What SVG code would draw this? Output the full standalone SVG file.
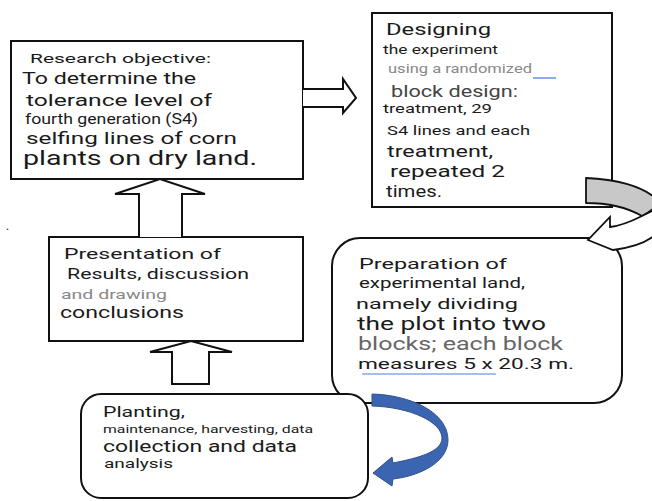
<svg xmlns="http://www.w3.org/2000/svg" width="652" height="501" viewBox="0 0 652 501">
<style>
.box{fill:#fff;stroke:#111;stroke-width:2}
.arr{fill:#fff;stroke:#111;stroke-width:2;stroke-linejoin:miter}
text{font-family:Roboto,"Liberation Sans",sans-serif;fill:#1a1a1a}
.g1{fill:#888}
.g2{fill:#444}
.g3{fill:#666}
</style>
<rect width="652" height="501" fill="#fff"/>
<g id="objective">
<rect class="box" x="11" y="41" width="292" height="138"/>
<text x="30" y="63" font-size="13.5" textLength="181" lengthAdjust="spacingAndGlyphs">Research objective:</text>
<text x="22" y="84" font-size="16.5" textLength="174" lengthAdjust="spacingAndGlyphs">To determine the</text>
<text x="26" y="106" font-size="16.5" textLength="186" lengthAdjust="spacingAndGlyphs">tolerance level of</text>
<text x="25" y="124" font-size="15" textLength="173" lengthAdjust="spacingAndGlyphs">fourth generation (S4)</text>
<text x="26" y="144" font-size="16.5" textLength="211" lengthAdjust="spacingAndGlyphs">selfing lines of corn</text>
<text x="23" y="165" font-size="19.5" textLength="234" lengthAdjust="spacingAndGlyphs">plants on dry land.</text>
</g>
<g id="designing">
<rect class="box" x="372" y="13" width="240" height="194"/>
<text x="386" y="35" font-size="16.5" textLength="105" lengthAdjust="spacingAndGlyphs">Designing</text>
<text x="383" y="54" font-size="12.5" textLength="115" lengthAdjust="spacingAndGlyphs">the experiment</text>
<text class="g1" x="388" y="73" font-size="12.5" textLength="144" lengthAdjust="spacingAndGlyphs">using a randomized</text>
<line x1="533" y1="78" x2="556" y2="78" stroke="#6b8fe6" stroke-width="1.5"/>
<text class="g2" x="391" y="97" font-size="16.5" textLength="127" lengthAdjust="spacingAndGlyphs">block design:</text>
<text x="383" y="113" font-size="13" textLength="109" lengthAdjust="spacingAndGlyphs">treatment, 29</text>
<text x="387" y="135" font-size="13" textLength="143" lengthAdjust="spacingAndGlyphs">S4 lines and each</text>
<text x="387" y="157" font-size="16.5" textLength="106" lengthAdjust="spacingAndGlyphs">treatment,</text>
<text x="390" y="177" font-size="16.5" textLength="115" lengthAdjust="spacingAndGlyphs">repeated 2</text>
<text x="386" y="197" font-size="16.5" textLength="56" lengthAdjust="spacingAndGlyphs">times.</text>
</g>
<g id="preparation">
<rect class="box" x="332" y="238" width="290" height="165" rx="28" ry="28"/>
<text x="359" y="269" font-size="15.5" textLength="148" lengthAdjust="spacingAndGlyphs">Preparation of</text>
<text x="359" y="288" font-size="14" textLength="166" lengthAdjust="spacingAndGlyphs">experimental land,</text>
<text x="356" y="309" font-size="15.5" textLength="162" lengthAdjust="spacingAndGlyphs">namely dividing</text>
<text x="357" y="330" font-size="17.5" fill="#000" textLength="189" lengthAdjust="spacingAndGlyphs">the plot into two</text>
<text class="g3" x="358" y="350" font-size="17.5" textLength="205" lengthAdjust="spacingAndGlyphs">blocks; each block</text>
<text x="358" y="369" font-size="15.5" textLength="216" lengthAdjust="spacingAndGlyphs">measures 5 x 20.3 m.</text>
<line x1="362" y1="374" x2="496" y2="374" stroke="#4a7fe0" stroke-width="1.2"/>
</g>
<g id="presentation">
<rect class="box" x="49" y="237" width="254" height="104"/>
<text x="64" y="259" font-size="15.5" textLength="157" lengthAdjust="spacingAndGlyphs">Presentation of</text>
<text x="67" y="279" font-size="15.5" textLength="182" lengthAdjust="spacingAndGlyphs">Results, discussion</text>
<text class="g1" x="61" y="299" font-size="13.5" textLength="106" lengthAdjust="spacingAndGlyphs">and drawing</text>
<text x="60" y="318" font-size="16.5" textLength="124" lengthAdjust="spacingAndGlyphs">conclusions</text>
</g>
<g id="planting">
<rect class="box" x="81" y="394" width="287" height="104" rx="20" ry="20"/>
<text x="103" y="417" font-size="14.5" textLength="82" lengthAdjust="spacingAndGlyphs">Planting,</text>
<text x="103" y="433" font-size="11.5" textLength="210" lengthAdjust="spacingAndGlyphs">maintenance, harvesting, data</text>
<text x="103" y="452" font-size="16.5" textLength="194" lengthAdjust="spacingAndGlyphs">collection and data</text>
<text x="104" y="468" font-size="12.5" textLength="69" lengthAdjust="spacingAndGlyphs">analysis</text>
</g>
<text x="6" y="230" font-size="12">.</text>
<g id="connectors">
<path class="arr" d="M303,89 H343 V79 L356,98 L343,113 V107 H303"/>
<path class="arr" d="M139,237 V194 H115 L160,179 L205,194 H182 V237"/>
<path class="arr" d="M172,384 V352 H150 L191,341 L232,352 H209 V384 Z"/>
<path d="M586,178 C618,179 642,187 654,197 L654,208 C649,212 646,214 642,216 C628,208 610,203 586,203 Z" fill="#c8c8c8" stroke="#111" stroke-width="1.8" stroke-linejoin="round"/>
<path d="M642,216 C630,222 620,226 610,227 L610,217 L588,240 L613,250 C630,248 645,243 654,236 L654,210 Z" fill="#fff" stroke="#111" stroke-width="1.8" stroke-linejoin="miter"/>
<path d="M372,394 C410,395 448,412 448,440 C448,462 420,476 393,479 L392,486 L373,473 L392,457 L393,463 C418,458 442,452 442,438 C442,422 410,407 372,406 Z" fill="#3c65b1" stroke="#2f528f" stroke-width="1"/>
</g>
</svg>
